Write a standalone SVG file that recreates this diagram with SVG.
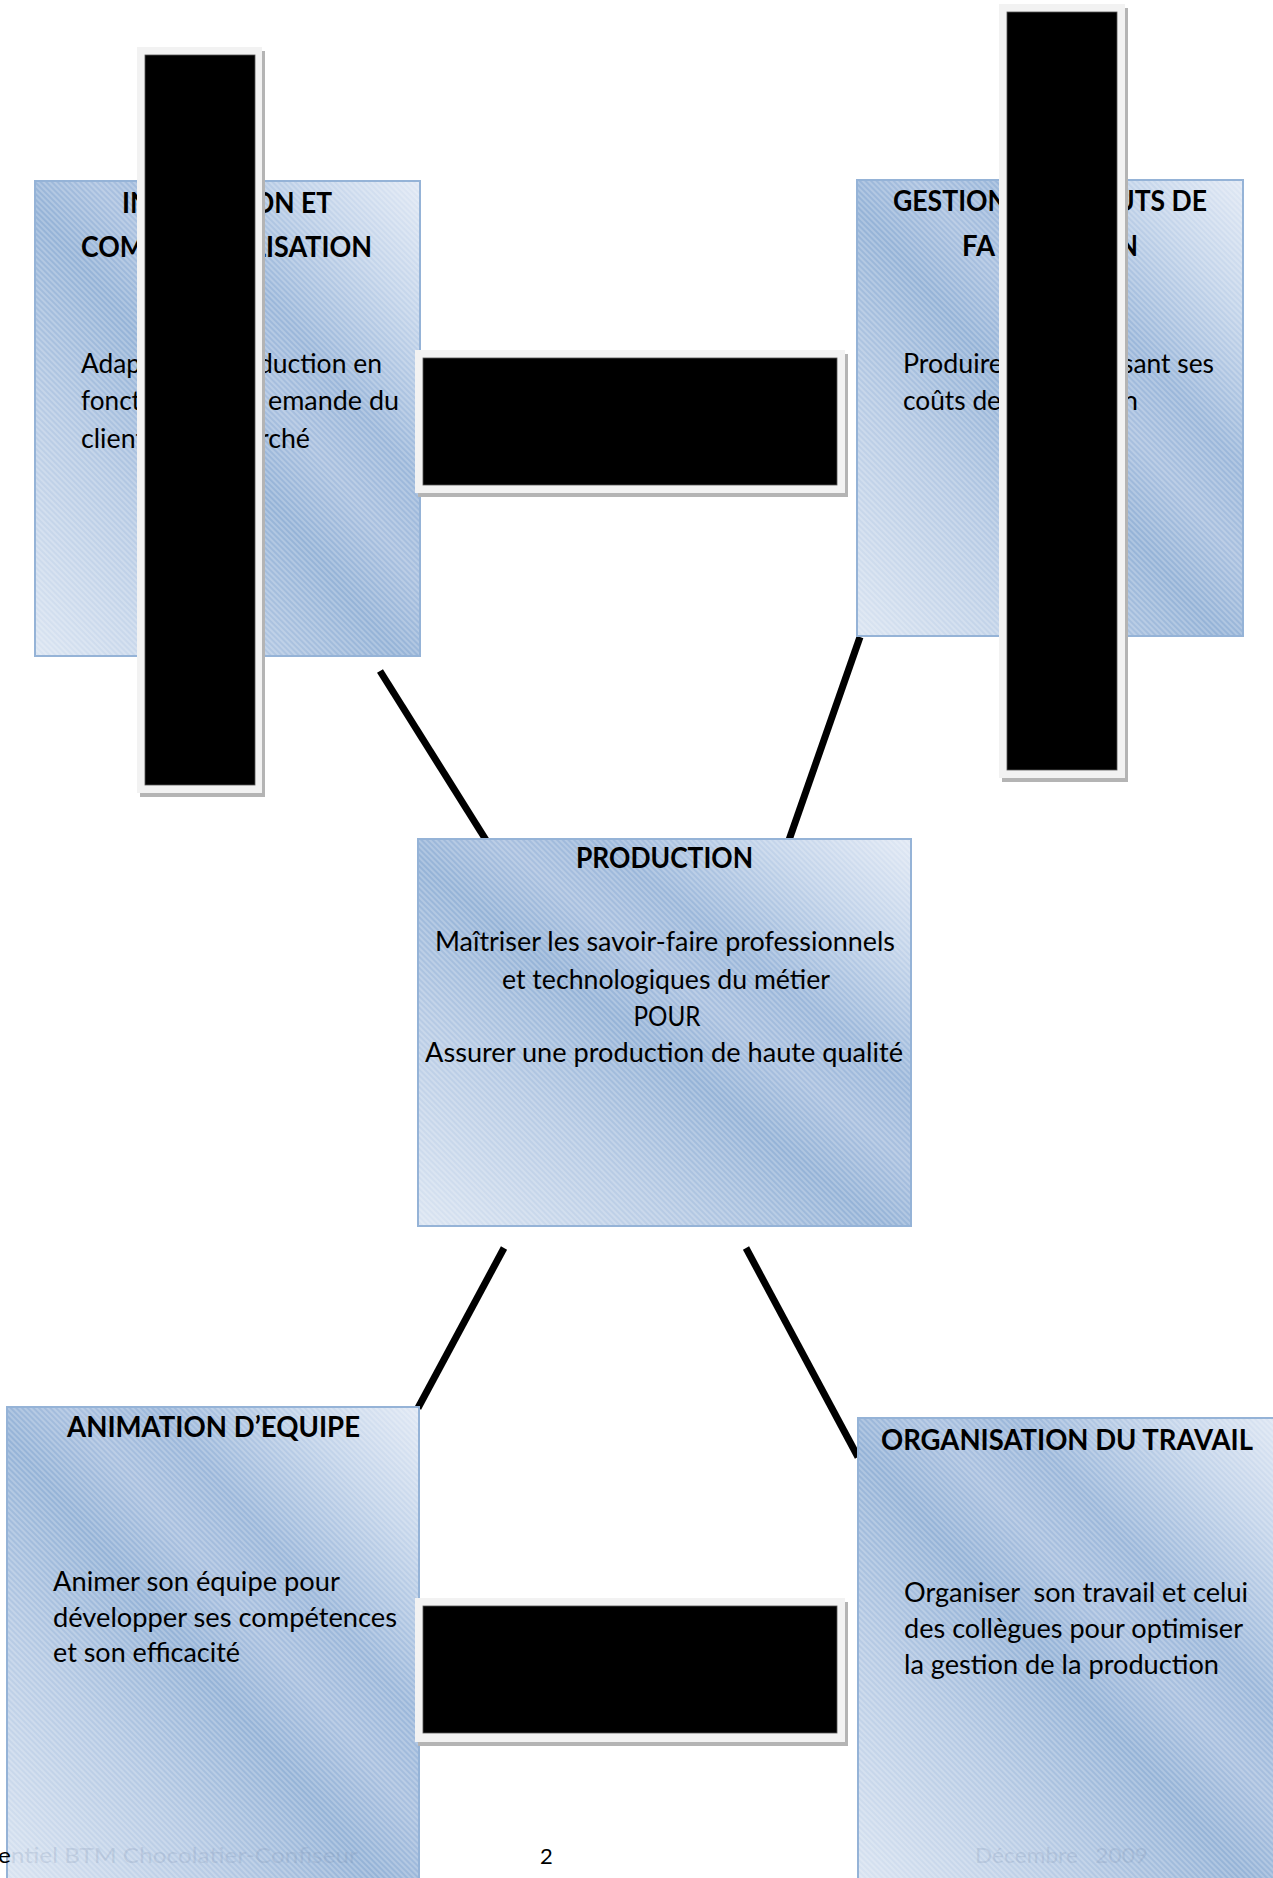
<svg xmlns="http://www.w3.org/2000/svg" width="1273" height="1878" viewBox="0 0 1273 1878">
<defs>
  <linearGradient id="boxGrad" x1="0" y1="1" x2="1" y2="0">
    <stop offset="0" stop-color="#dbe5f2"/>
    <stop offset="0.28" stop-color="#b6cae4"/>
    <stop offset="0.47" stop-color="#95b3d7"/>
    <stop offset="0.58" stop-color="#a9c0df"/>
    <stop offset="0.68" stop-color="#9bb7da"/>
    <stop offset="0.85" stop-color="#c3d4ea"/>
    <stop offset="1" stop-color="#e0e8f4"/>
  </linearGradient>
  <pattern id="hatch" width="4" height="4" patternUnits="userSpaceOnUse" patternTransform="rotate(-45)">
    <line x1="2" y1="0" x2="2" y2="4" stroke="#ffffff" stroke-width="1" stroke-opacity="0.45"/>
  </pattern>
  <style>
    .fill { fill: url(#boxGrad); }
    .hatch { fill: url(#hatch); }
    .edge { fill: none; stroke: #95b3d7; stroke-width: 2; }
    .ttl { font-family: Lato, "Open Sans", "Liberation Sans", sans-serif; font-weight: bold; font-size: 29px; fill: #000; }
    .bdy { font-family: Lato, "Open Sans", "Liberation Sans", sans-serif; font-size: 27px; fill: #000; }
    .ftr { font-family: Lato, "Open Sans", "Liberation Sans", sans-serif; font-size: 22px; fill: #000; }
    .faint { fill: #6f82a3; fill-opacity: 0.2; }
    .mid { text-anchor: middle; }
    .end { text-anchor: end; }
    .conn { stroke: #000; stroke-width: 7; fill: none; }
    .shadow { fill: #b4b4b4; }
    .frame { fill: #f2f2f2; }
    .ink { fill: #000; stroke: #555; stroke-width: 0.8; }
  </style>
</defs>

<rect x="0" y="0" width="1273" height="1878" fill="#ffffff"/>

<!-- Connectors -->
<g id="connectors">
  <line class="conn" x1="380" y1="671" x2="486" y2="840"/>
  <line class="conn" x1="860" y1="637" x2="789" y2="840"/>
  <line class="conn" x1="504" y1="1248" x2="418" y2="1408"/>
  <line class="conn" x1="746" y1="1248" x2="858" y2="1457"/>
</g>

<!-- Node: Information et commercialisation -->
<g id="node-information">
  <rect class="fill" x="35" y="181" width="385" height="475"/>
  <rect class="hatch" x="35" y="181" width="385" height="475"/>
  <rect class="edge" x="35" y="181" width="385" height="475"/>
  <text class="ttl" x="122" y="213" textLength="29" lengthAdjust="spacingAndGlyphs">IN</text>
  <text class="ttl end" x="332" y="213" textLength="79" lengthAdjust="spacingAndGlyphs">ON ET</text>
  <text class="ttl" x="81" y="257" textLength="64" lengthAdjust="spacingAndGlyphs">COM</text>
  <text class="ttl end" x="372" y="257" textLength="120" lengthAdjust="spacingAndGlyphs">LISATION</text>
  <text class="bdy" x="81" y="373" textLength="60" lengthAdjust="spacingAndGlyphs">Adap</text>
  <text class="bdy end" x="382" y="373" textLength="124" lengthAdjust="spacingAndGlyphs">duction en</text>
  <text class="bdy" x="81" y="410" textLength="60" lengthAdjust="spacingAndGlyphs">fonct</text>
  <text class="bdy end" x="399" y="410" textLength="131" lengthAdjust="spacingAndGlyphs">emande du</text>
  <text class="bdy" x="81" y="448" textLength="64" lengthAdjust="spacingAndGlyphs">client</text>
  <text class="bdy end" x="310" y="448" textLength="51" lengthAdjust="spacingAndGlyphs">rché</text>
</g>

<!-- Node: Gestion des couts -->
<g id="node-gestion">
  <rect class="fill" x="857" y="180" width="386" height="456"/>
  <rect class="hatch" x="857" y="180" width="386" height="456"/>
  <rect class="edge" x="857" y="180" width="386" height="456"/>
  <text class="ttl" x="893" y="211" textLength="115" lengthAdjust="spacingAndGlyphs">GESTION</text>
  <text class="ttl end" x="1207" y="211" textLength="92" lengthAdjust="spacingAndGlyphs">UTS DE</text>
  <text class="ttl" x="962" y="256" textLength="33" lengthAdjust="spacingAndGlyphs">FA</text>
  <text class="ttl end" x="1138" y="256" textLength="20" lengthAdjust="spacingAndGlyphs">N</text>
  <text class="bdy" x="903" y="373" textLength="100" lengthAdjust="spacingAndGlyphs">Produire</text>
  <text class="bdy end" x="1214" y="373" textLength="92" lengthAdjust="spacingAndGlyphs">sant ses</text>
  <text class="bdy" x="903" y="410" textLength="98" lengthAdjust="spacingAndGlyphs">coûts de</text>
  <text class="bdy end" x="1138" y="410" textLength="15" lengthAdjust="spacingAndGlyphs">n</text>
</g>

<!-- Node: Production -->
<g id="node-production">
  <rect class="fill" x="418" y="839" width="493" height="387"/>
  <rect class="hatch" x="418" y="839" width="493" height="387"/>
  <rect class="edge" x="418" y="839" width="493" height="387"/>
  <text class="ttl mid" x="664.5" y="868" textLength="177" lengthAdjust="spacingAndGlyphs">PRODUCTION</text>
  <text class="bdy mid" x="665" y="951" textLength="460" lengthAdjust="spacingAndGlyphs">Maîtriser les savoir-faire professionnels</text>
  <text class="bdy mid" x="666" y="989" textLength="328" lengthAdjust="spacingAndGlyphs">et technologiques du métier</text>
  <text class="bdy mid" x="667" y="1026" textLength="67" lengthAdjust="spacingAndGlyphs">POUR</text>
  <text class="bdy mid" x="664" y="1062" textLength="478" lengthAdjust="spacingAndGlyphs">Assurer une production de haute qualité</text>
</g>

<!-- Node: Animation d'equipe -->
<g id="node-animation">
  <rect class="fill" x="7" y="1407" width="412" height="490"/>
  <rect class="hatch" x="7" y="1407" width="412" height="490"/>
  <rect class="edge" x="7" y="1407" width="412" height="490"/>
  <text class="ttl mid" x="213.5" y="1437" textLength="293" lengthAdjust="spacingAndGlyphs">ANIMATION D’EQUIPE</text>
  <text class="bdy" x="53" y="1591" textLength="287" lengthAdjust="spacingAndGlyphs">Animer son équipe pour</text>
  <text class="bdy" x="53" y="1627" textLength="344" lengthAdjust="spacingAndGlyphs">développer ses compétences</text>
  <text class="bdy" x="53" y="1662" textLength="187" lengthAdjust="spacingAndGlyphs">et son efficacité</text>
</g>

<!-- Node: Organisation du travail -->
<g id="node-organisation">
  <rect class="fill" x="858" y="1418" width="432" height="480"/>
  <rect class="hatch" x="858" y="1418" width="432" height="480"/>
  <rect class="edge" x="858" y="1418" width="432" height="480"/>
  <text class="ttl mid" x="1067" y="1450" textLength="372" lengthAdjust="spacingAndGlyphs">ORGANISATION DU TRAVAIL</text>
  <text class="bdy" x="904" y="1602" xml:space="preserve" textLength="344" lengthAdjust="spacingAndGlyphs">Organiser  son travail et celui</text>
  <text class="bdy" x="904" y="1638" textLength="339" lengthAdjust="spacingAndGlyphs">des collègues pour optimiser</text>
  <text class="bdy" x="904" y="1674" textLength="315" lengthAdjust="spacingAndGlyphs">la gestion de la production</text>
</g>

<!-- Footer -->
<g id="footer">
  <text class="ftr" x="-2" y="1863" textLength="360" lengthAdjust="spacingAndGlyphs"><tspan>e</tspan><tspan class="faint">ntiel BTM Chocolatier-Confiseur</tspan></text>
  <text class="ftr" x="540" y="1864">2</text>
  <text class="ftr faint" x="975" y="1863" xml:space="preserve" textLength="173" lengthAdjust="spacingAndGlyphs">Décembre   2009</text>
</g>

<!-- Redaction bars -->
<g id="redactions">
  <g id="bar-left">
    <rect class="shadow" x="140" y="51" width="125" height="746"/>
    <rect class="frame" x="137" y="47" width="125" height="746"/>
    <rect class="ink" x="145" y="55" width="110" height="730"/>
  </g>
  <g id="bar-top">
    <rect class="shadow" x="418" y="354" width="430" height="143"/>
    <rect class="frame" x="415" y="350" width="430" height="143"/>
    <rect class="ink" x="423" y="358" width="414" height="127"/>
  </g>
  <g id="bar-right">
    <rect class="shadow" x="1002" y="8" width="126" height="774"/>
    <rect class="frame" x="999" y="4" width="126" height="774"/>
    <rect class="ink" x="1007" y="12" width="110" height="758"/>
  </g>
  <g id="bar-bottom">
    <rect class="shadow" x="418" y="1602" width="430" height="144"/>
    <rect class="frame" x="415" y="1598" width="430" height="144"/>
    <rect class="ink" x="423" y="1606" width="414" height="127"/>
  </g>
</g>
</svg>
